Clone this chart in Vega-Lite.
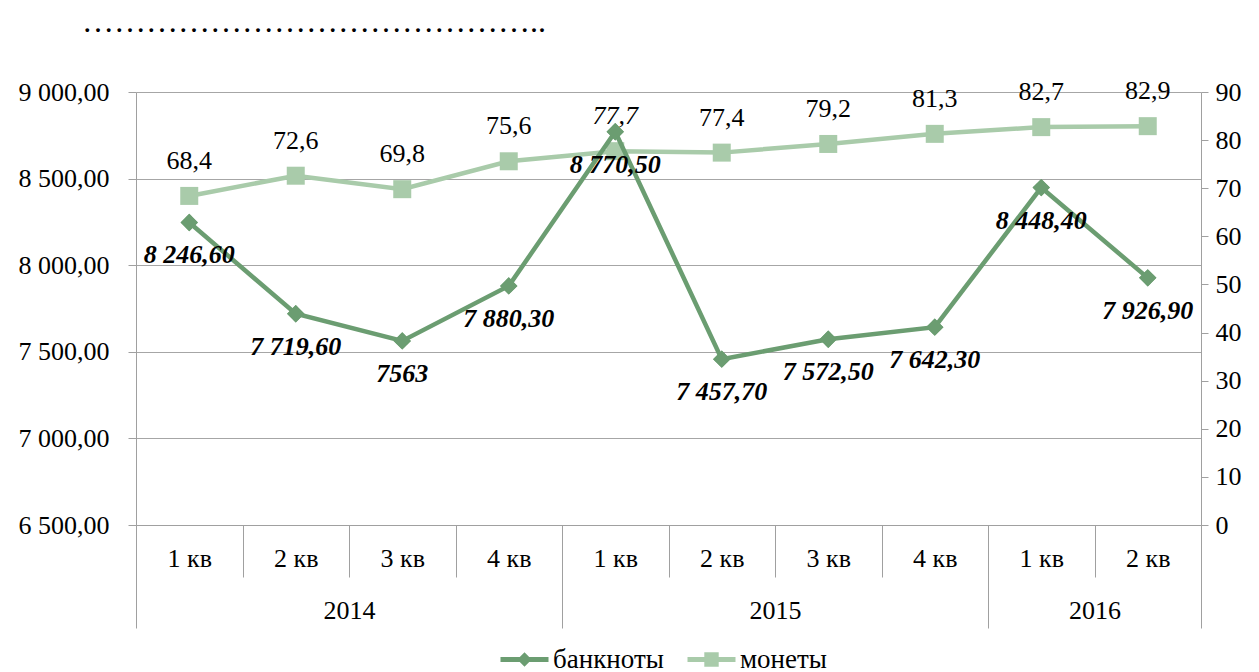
{
  "$schema": "https://vega.github.io/schema/vega-lite/v6.json",
  "width": 1065,
  "height": 433,
  "autosize": {"type": "none"},
  "padding": {"left": 136, "top": 92, "right": 58, "bottom": 147},
  "background": "white",
  "title": {
    "text": "……………………………………..",
    "anchor": "start",
    "frame": "group",
    "font": "Liberation Serif",
    "fontSize": 32,
    "fontWeight": "normal",
    "color": "black",
    "baseline": "alphabetic",
    "dx": -54,
    "offset": 14
  },
  "data": {
    "values": [
      {"idx": 0, "quarter": "1 кв", "year": "2014", "banknotes": 8246.6, "coins": 68.4, "bLabel": "8 246,60", "cLabel": "68,4"},
      {"idx": 1, "quarter": "2 кв", "year": "2014", "banknotes": 7719.6, "coins": 72.6, "bLabel": "7 719,60", "cLabel": "72,6"},
      {"idx": 2, "quarter": "3 кв", "year": "2014", "banknotes": 7563, "coins": 69.8, "bLabel": "7563", "cLabel": "69,8"},
      {"idx": 3, "quarter": "4 кв", "year": "2014", "banknotes": 7880.3, "coins": 75.6, "bLabel": "7 880,30", "cLabel": "75,6"},
      {"idx": 4, "quarter": "1 кв", "year": "2015", "banknotes": 8770.5, "coins": 77.7, "bLabel": "8 770,50", "cLabel": "77,7"},
      {"idx": 5, "quarter": "2 кв", "year": "2015", "banknotes": 7457.7, "coins": 77.4, "bLabel": "7 457,70", "cLabel": "77,4"},
      {"idx": 6, "quarter": "3 кв", "year": "2015", "banknotes": 7572.5, "coins": 79.2, "bLabel": "7 572,50", "cLabel": "79,2"},
      {"idx": 7, "quarter": "4 кв", "year": "2015", "banknotes": 7642.3, "coins": 81.3, "bLabel": "7 642,30", "cLabel": "81,3"},
      {"idx": 8, "quarter": "1 кв", "year": "2016", "banknotes": 8448.4, "coins": 82.7, "bLabel": "8 448,40", "cLabel": "82,7"},
      {"idx": 9, "quarter": "2 кв", "year": "2016", "banknotes": 7926.9, "coins": 82.9, "bLabel": "7 926,90", "cLabel": "82,9"}
    ]
  },
  "layer": [
    {
      "mark": {"type": "point", "shape": "diamond", "filled": true, "size": 300, "opacity": 1},
      "encoding": {
        "x": {"field": "idx", "type": "quantitative", "scale": {"domain": [-0.5, 9.5], "nice": false, "zero": false}, "axis": null},
        "y": {"field": "banknotes", "type": "quantitative", "scale": {"domain": [6500, 9000], "nice": false, "zero": false}, "axis": null},
        "color": {"datum": "банкноты", "scale": {"range": ["#6b9d71"]},
          "legend": {"title": null, "orient": "bottom", "direction": "horizontal", "offset": 17, "symbolType": "M-2,-0.2L2,-0.2L2,0.2L-2,0.2Z M0,-0.6L0.6,0L0,0.6L-0.6,0Z", "symbolSize": 576, "symbolStrokeWidth": 0, "labelFont": "Liberation Serif", "labelFontSize": 27, "labelColor": "black", "labelOffset": 15}}
      }
    },
    {
      "mark": {"type": "line", "color": "#a9cbaa", "strokeWidth": 4.5},
      "encoding": {
        "x": {"field": "idx", "type": "quantitative", "scale": {"domain": [-0.5, 9.5], "nice": false, "zero": false},
          "axis": {"orient": "bottom", "values": [-0.5, 0.5, 1.5, 2.5, 3.5, 4.5, 5.5, 6.5, 7.5, 8.5, 9.5], "grid": false, "labels": false, "domain": true, "domainColor": "#a0a0a0", "ticks": true, "tickColor": "#a0a0a0", "tickSize": 52, "title": null}},
        "y": {"field": "coins", "type": "quantitative", "scale": {"domain": [0, 90], "nice": false},
          "axis": {"orient": "right", "values": [0, 10, 20, 30, 40, 50, 60, 70, 80, 90], "grid": false, "domain": true, "domainColor": "#a0a0a0", "ticks": true, "tickColor": "#a0a0a0", "tickSize": 7, "labelFont": "Liberation Serif", "labelFontSize": 26, "labelColor": "black", "labelPadding": 7, "title": null}}
      }
    },
    {
      "mark": {"type": "point", "shape": "square", "filled": true, "size": 324, "opacity": 1},
      "encoding": {
        "x": {"field": "idx", "type": "quantitative", "scale": {"domain": [-0.5, 9.5], "nice": false, "zero": false},
          "axis": {"orient": "bottom", "values": [-0.5, 3.5, 7.5, 9.5], "grid": false, "labels": false, "domain": false, "ticks": true, "tickColor": "#a0a0a0", "tickSize": 103, "title": null}},
        "y": {"field": "coins", "type": "quantitative", "scale": {"domain": [0, 90], "nice": false}, "axis": null},
        "fill": {"datum": "монеты", "scale": {"range": ["#a9cbaa"]},
          "legend": {"title": null, "orient": "bottom", "direction": "horizontal", "offset": 17, "symbolType": "M-2,-0.2L2,-0.2L2,0.2L-2,0.2Z M-0.6,-0.6L0.6,-0.6L0.6,0.6L-0.6,0.6Z", "symbolSize": 576, "symbolStrokeWidth": 0, "labelFont": "Liberation Serif", "labelFontSize": 27, "labelColor": "black", "labelOffset": 15}}
      }
    },
    {
      "transform": [{"filter": "datum.idx != 4"}],
      "mark": {"type": "text", "dy": -35, "font": "Liberation Serif", "fontSize": 26, "color": "black", "baseline": "middle"},
      "encoding": {
        "x": {"field": "idx", "type": "quantitative", "scale": {"domain": [-0.5, 9.5], "nice": false, "zero": false},
          "axis": {"orient": "bottom", "values": [0, 1, 2, 3, 4, 5, 6, 7, 8, 9], "grid": false, "labels": true, "domain": false, "ticks": false, "tickSize": 0, "labelFlush": false, "labelOverlap": false, "labelBaseline": "middle", "labelPadding": 33,
            "labelExpr": "(datum.value < 4 ? datum.value + 1 : datum.value < 8 ? datum.value - 3 : datum.value - 7) + ' кв'", "labelFont": "Liberation Serif", "labelFontSize": 26, "labelColor": "black", "title": null}},
        "y": {"field": "coins", "type": "quantitative", "scale": {"domain": [0, 90], "nice": false}, "axis": null},
        "text": {"field": "cLabel"}
      }
    },
    {
      "transform": [{"filter": "datum.idx == 4"}],
      "mark": {"type": "text", "dy": -35, "font": "Liberation Serif", "fontSize": 26, "fontStyle": "italic", "color": "black", "baseline": "middle"},
      "encoding": {
        "x": {"field": "idx", "type": "quantitative", "scale": {"domain": [-0.5, 9.5], "nice": false, "zero": false}, "axis": null},
        "y": {"field": "coins", "type": "quantitative", "scale": {"domain": [0, 90], "nice": false}, "axis": null},
        "text": {"field": "cLabel"}
      }
    },
    {
      "mark": {"type": "line", "color": "#6b9d71", "strokeWidth": 4.5},
      "encoding": {
        "x": {"field": "idx", "type": "quantitative", "scale": {"domain": [-0.5, 9.5], "nice": false, "zero": false},
          "axis": {"orient": "bottom", "values": [1.5, 5.5, 8.5], "grid": false, "labels": true, "domain": false, "ticks": false, "tickSize": 0, "labelFlush": false, "labelOverlap": false, "labelBaseline": "middle", "labelPadding": 85,
            "labelExpr": "datum.value < 3 ? '2014' : datum.value < 7 ? '2015' : '2016'", "labelFont": "Liberation Serif", "labelFontSize": 26, "labelColor": "black", "title": null}},
        "y": {"field": "banknotes", "type": "quantitative", "scale": {"domain": [6500, 9000], "nice": false, "zero": false},
          "axis": {"orient": "left", "values": [6500, 7000, 7500, 8000, 8500, 9000], "grid": true, "gridColor": "#a6a6a6", "domain": true, "domainColor": "#a0a0a0", "ticks": true, "tickColor": "#a0a0a0", "tickSize": 8, "labelFont": "Liberation Serif", "labelFontSize": 26, "labelColor": "black", "labelPadding": 19,
            "labelExpr": "replace(replace(format(datum.value, ',.2f'), ',', ' '), '.', ',')", "title": null}}
      }
    },
    {
      "mark": {"type": "point", "shape": "diamond", "filled": true, "size": 300, "opacity": 1, "color": "#6b9d71"},
      "encoding": {
        "x": {"field": "idx", "type": "quantitative", "scale": {"domain": [-0.5, 9.5], "nice": false, "zero": false}, "axis": null},
        "y": {"field": "banknotes", "type": "quantitative", "scale": {"domain": [6500, 9000], "nice": false, "zero": false}, "axis": null}
      }
    },
    {
      "mark": {"type": "text", "dy": 33, "font": "Liberation Serif", "fontSize": 26, "fontStyle": "italic", "fontWeight": "bold", "color": "black", "baseline": "middle"},
      "encoding": {
        "x": {"field": "idx", "type": "quantitative", "scale": {"domain": [-0.5, 9.5], "nice": false, "zero": false}, "axis": null},
        "y": {"field": "banknotes", "type": "quantitative", "scale": {"domain": [6500, 9000], "nice": false, "zero": false}, "axis": null},
        "text": {"field": "bLabel"}
      }
    }
  ],
  "resolve": {"scale": {"y": "independent"}, "axis": {"x": "independent"}},
  "config": {
    "font": "Liberation Serif",
    "view": {"stroke": null},
    "legend": {"layout": {"bottom": {"anchor": "middle", "direction": "horizontal", "margin": 34}}}
  }
}
